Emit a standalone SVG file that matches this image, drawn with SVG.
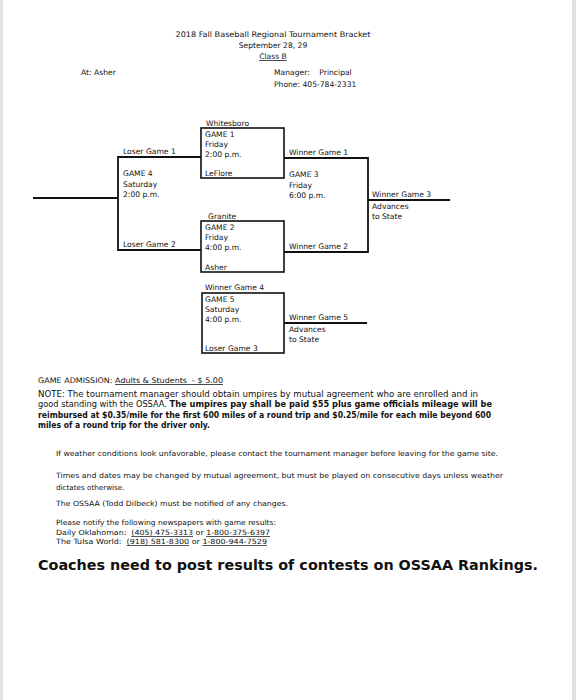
<svg xmlns="http://www.w3.org/2000/svg" width="576" height="700" viewBox="0 0 576 700">
<style>
text{font-family:"DejaVu Sans","Liberation Sans",sans-serif;fill:#111;}
.s{font-size:7.6px;}
.m{font-size:8.2px;}
.n{font-size:7.2px;}
.b{font-weight:bold;}
.u{text-decoration:underline;}
.ln{stroke:#111;stroke-width:1.8;fill:none;}
.box{stroke:#111;stroke-width:1.6;fill:#fff;}
</style>
<rect width="576" height="700" fill="#fff"/>
<rect x="0" y="0" width="3" height="700" fill="#e2e2e2"/>
<rect x="572" y="0" width="4" height="700" fill="#e2e2e2"/>

<g id="header">
<text class="s" x="273" y="37" text-anchor="middle" textLength="195" lengthAdjust="spacingAndGlyphs">2018 Fall Baseball Regional Tournament Bracket</text>
<text class="s" x="273" y="48" text-anchor="middle">September 28, 29</text>
<text class="s u" x="273" y="59" text-anchor="middle">Class B</text>
<text class="s" x="81" y="75">At: Asher</text>
<text class="s" x="274" y="75" xml:space="preserve">Manager:    Principal</text>
<text class="s" x="274" y="87">Phone: 405-784-2331</text>
</g>

<g id="connectors">
<polyline class="ln" points="33,198 118,198"/>
<polyline class="ln" points="201,157 118,157 118,250 201,250"/>
<polyline class="ln" points="284,158 368,158 368,252 284,252"/>
<polyline class="ln" points="368,200 450,200"/>
<polyline class="ln" points="284,323 367,323"/>
</g>

<g id="game1">
<text class="s" x="206" y="126">Whitesboro</text>
<rect class="box" x="201" y="128" width="83" height="50"/>
<text class="s" x="205" y="137">GAME 1</text>
<text class="s" x="205" y="147">Friday</text>
<text class="s" x="205" y="157">2:00 p.m.</text>
<text class="s" x="205" y="176">LeFlore</text>
</g>

<g id="game2">
<text class="s" x="208" y="219">Granite</text>
<rect class="box" x="201" y="221" width="83" height="51"/>
<text class="s" x="205" y="230">GAME 2</text>
<text class="s" x="205" y="240">Friday</text>
<text class="s" x="205" y="250">4:00 p.m.</text>
<text class="s" x="205" y="270">Asher</text>
</g>

<g id="game4">
<text class="s" x="123" y="154">Loser Game 1</text>
<text class="s" x="123" y="176">GAME 4</text>
<text class="s" x="123" y="187">Saturday</text>
<text class="s" x="123" y="197">2:00 p.m.</text>
<text class="s" x="123" y="247">Loser Game 2</text>
</g>

<g id="game3">
<text class="s" x="289" y="155">Winner Game 1</text>
<text class="s" x="289" y="177">GAME 3</text>
<text class="s" x="289" y="188">Friday</text>
<text class="s" x="289" y="198">6:00 p.m.</text>
<text class="s" x="289" y="249">Winner Game 2</text>
</g>

<g id="winner3">
<text class="s" x="372" y="197">Winner Game 3</text>
<text class="s" x="372" y="209">Advances</text>
<text class="s" x="372" y="219">to State</text>
</g>

<g id="game5">
<text class="s" x="205" y="290">Winner Game 4</text>
<rect class="box" x="202" y="293" width="82" height="60"/>
<text class="s" x="205" y="302">GAME 5</text>
<text class="s" x="205" y="312">Saturday</text>
<text class="s" x="205" y="322">4:00 p.m.</text>
<text class="s" x="205" y="351">Loser Game 3</text>
</g>

<g id="winner5">
<text class="s" x="289" y="320">Winner Game 5</text>
<text class="s" x="289" y="332">Advances</text>
<text class="s" x="289" y="342">to State</text>
</g>

<g id="notes">
<text class="s" x="38" y="383" xml:space="preserve" textLength="185" lengthAdjust="spacingAndGlyphs">GAME ADMISSION: <tspan class="u">Adults &amp; Students  - $ 5.00</tspan></text>
<text class="m" x="38" y="397" textLength="440" lengthAdjust="spacingAndGlyphs">NOTE: The tournament manager should obtain umpires by mutual agreement who are enrolled and in</text>
<text class="m" x="38" y="407" textLength="454" lengthAdjust="spacingAndGlyphs">good standing with the OSSAA.  <tspan class="b">The umpires pay shall be paid $55 plus game officials mileage will be</tspan></text>
<text class="m b" x="38" y="418" textLength="453" lengthAdjust="spacingAndGlyphs">reimbursed at $0.35/mile for the first 600 miles of a round trip and $0.25/mile for each mile beyond 600</text>
<text class="m b" x="38" y="428" textLength="172" lengthAdjust="spacingAndGlyphs">miles of a round trip for the driver only.</text>

<text class="n" x="56" y="456" textLength="442" lengthAdjust="spacingAndGlyphs">If weather conditions look unfavorable, please contact the tournament manager before leaving for the game site.</text>
<text class="n" x="56" y="478" textLength="447" lengthAdjust="spacingAndGlyphs">Times and dates may be changed by mutual agreement, but must be played on consecutive days unless weather</text>
<text class="n" x="56" y="490">dictates otherwise.</text>
<text class="n" x="56" y="506" textLength="232" lengthAdjust="spacingAndGlyphs">The OSSAA (Todd Dilbeck) must be notified of any changes.</text>
<text class="n" x="56" y="525" textLength="220" lengthAdjust="spacingAndGlyphs">Please notify the following newspapers with game results:</text>
<text class="n" x="56" y="535" xml:space="preserve" textLength="214" lengthAdjust="spacingAndGlyphs">Daily Oklahoman:  <tspan class="u">(405) 475-3313</tspan> or <tspan class="u">1-800-375-6397</tspan></text>
<text class="n" x="56" y="544" xml:space="preserve" textLength="211" lengthAdjust="spacingAndGlyphs">The Tulsa World:  <tspan class="u">(918) 581-8300</tspan> or <tspan class="u">1-800-944-7529</tspan></text>
<text class="b" x="38" y="570" font-size="14" textLength="500" lengthAdjust="spacingAndGlyphs">Coaches need to post results of contests on OSSAA Rankings.</text>
</g>
</svg>
